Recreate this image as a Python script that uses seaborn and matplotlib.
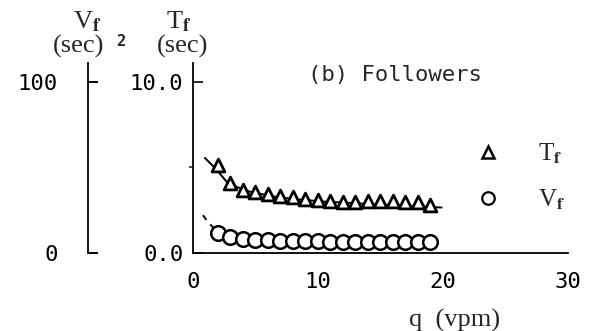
import numpy as np
import pandas as pd
import matplotlib
matplotlib.use("Agg")
import matplotlib.pyplot as plt
import seaborn as sns
from matplotlib.lines import Line2D

# measured points (followers)
q = [2, 3, 4, 5, 6, 7, 8, 9, 10, 11, 12, 13, 14, 15, 16, 17, 18, 19]
T_f = [5.15, 4.1, 3.7, 3.55, 3.45, 3.35, 3.25, 3.15, 3.1, 3.05, 3.0, 3.0,
       3.05, 3.05, 3.05, 3.0, 3.0, 2.8]
V_f = [11.7, 9.4, 8.2, 7.8, 7.5, 7.2, 7.0, 6.8, 6.8, 6.6, 6.5, 6.5,
       6.5, 6.4, 6.3, 6.3, 6.2, 6.2]

# fitted curves
q_fit_T = [0.95, 1.9, 2.7, 3.5, 4.6, 6.4, 8, 10.4, 14.4, 19.9]
T_fit = [5.55, 4.85, 4.15, 3.85, 3.57, 3.3, 3.15, 3.0, 2.85, 2.65]
q_fit_V = [0.8, 1.2, 1.6, 2.2, 3, 4, 6, 9, 13, 19.5]
V_fit = [22, 18, 15, 12, 10, 8.8, 7.8, 7.0, 6.5, 6.0]

x_ticks = [0, 10, 20, 30]
x_ticklabels = ["0", "10", "20", "30"]

sns.set_style("white")
plt.rcParams["font.family"] = ["DejaVu Sans Mono", "DejaVu Sans"]
plt.rcParams["mathtext.fontset"] = "stix"
serif = ["Liberation Serif", "DejaVu Serif"]

pts = pd.DataFrame({"q": q, "T": T_f, "V": V_f})
fitT = pd.DataFrame({"q": q_fit_T, "T": T_fit})
fitV = pd.DataFrame({"q": q_fit_V, "V": V_fit})

fig = plt.figure(figsize=(5.92, 3.31), dpi=100)
ax = fig.add_axes([0.326, 0.236, 0.633, 0.574])
ax2 = ax.twinx()

sns.lineplot(data=fitT, x="q", y="T", ax=ax, color="black", lw=1.4)
sns.scatterplot(data=pts, x="q", y="T", ax=ax, marker="^", s=85,
                facecolor="white", edgecolor="black", linewidth=2.0, zorder=3)
sns.lineplot(data=fitV, x="q", y="V", ax=ax2, color="black", lw=1.4,
             linestyle=(0, (3, 3)))
sns.scatterplot(data=pts, x="q", y="V", ax=ax2, marker="o", s=110,
                facecolor="white", edgecolor="black", linewidth=1.8, zorder=3)

ax.set_xlim(0, 30)
ax.set_ylim(0, 11.1)
ax2.set_ylim(0, 111)

for a in (ax, ax2):
    a.spines["top"].set_visible(False)
    a.spines["right"].set_visible(False)
    a.set_xlabel("")
    a.set_ylabel("")
for s in ("left", "bottom"):
    ax.spines[s].set_color("black")
    ax.spines[s].set_linewidth(1.3)
ax2.spines["bottom"].set_visible(False)
ax2.spines["left"].set_position(("axes", -0.28))
ax2.spines["left"].set_color("black")
ax2.spines["left"].set_linewidth(1.3)
ax2.yaxis.set_ticks_position("left")

ax.set_xticks(x_ticks)
ax.set_xticklabels(x_ticklabels)
ax.set_xticks([5, 15, 25], minor=True)
ax.tick_params(axis="x", which="both", direction="in", length=5, width=1.2,
               labelsize=16, pad=14, colors="black")
ax.set_yticks([0, 10])
ax.set_yticklabels(["0.0", "10.0"])
ax.set_yticks([5], minor=True)
ax.tick_params(axis="y", which="major", direction="in", length=7, width=1.2,
               labelsize=16, pad=7, colors="black")
ax.tick_params(axis="y", which="minor", direction="out", length=3, width=1.2)

ax2.set_yticks([0, 100])
ax2.set_yticklabels(["0", "100"])
ax2.tick_params(axis="y", which="major", direction="in", length=7, width=1.4,
                labelsize=16, pad=22, colors="black", left=True, right=False,
                labelleft=True, labelright=False)

# axis titles
fig.text(87 / 592, 1 - 22 / 331, r"V$_\mathbf{f}$", family=serif, fontsize=19,
         ha="center", va="center")
fig.text(79 / 592, 1 - 46 / 331, "(sec)", family=serif, fontsize=19,
         ha="center", va="center")
fig.text(121 / 592, 1 - 42 / 331, "2", fontsize=11, fontweight="bold",
         ha="center", va="center")
fig.text(179 / 592, 1 - 22 / 331, r"T$_\mathbf{f}$", family=serif, fontsize=19,
         ha="center", va="center")
fig.text(183 / 592, 1 - 46 / 331, "(sec)", family=serif, fontsize=19,
         ha="center", va="center")

ax.text(0.539, 0.937, "(b) Followers", transform=ax.transAxes, fontsize=16,
        ha="center", va="center")

fig.text(455 / 592, 1 - 320 / 331, "q  (vpm)", family=serif, fontsize=19,
         ha="center", va="center")

handles = [
    Line2D([], [], marker="^", ls="none", ms=9, mfc="white", mec="black", mew=1.8),
    Line2D([], [], marker="o", ls="none", ms=9, mfc="white", mec="black", mew=1.6),
]
leg = ax.legend(handles, [r"T$_\mathbf{f}$", r"V$_\mathbf{f}$"], frameon=False,
                loc="center left", bbox_to_anchor=(0.695, 0.40),
                handlelength=1, handletextpad=1.5, labelspacing=0.85,
                prop={"family": serif, "size": 18})

fig.savefig("out.png", dpi=100)
